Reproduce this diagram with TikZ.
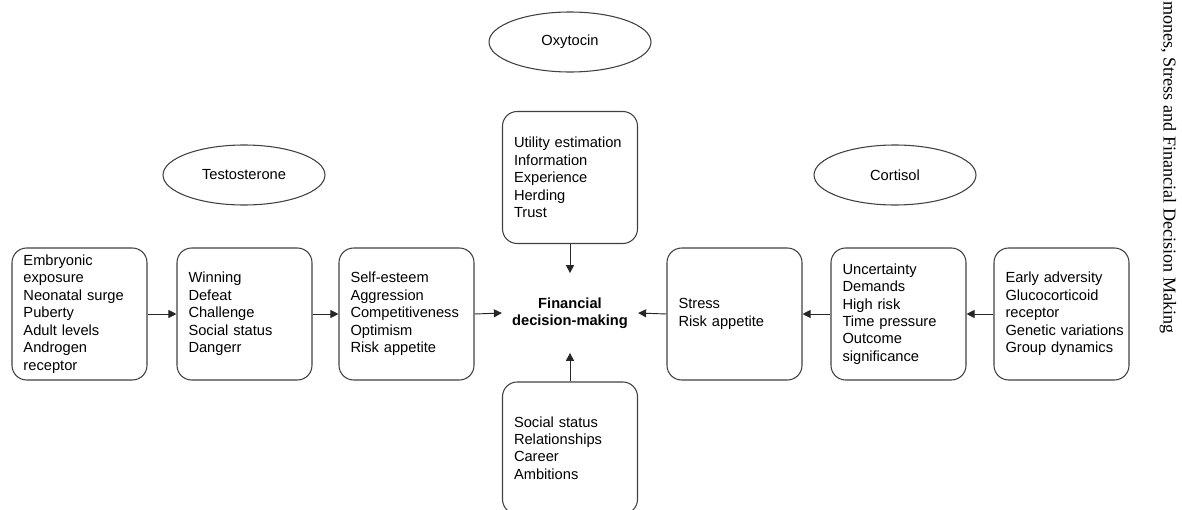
\documentclass[tikz,border=0pt]{standalone}
\usepackage{fontspec}
\setmainfont{Liberation Sans}
\newfontfamily\runhead{Liberation Serif}
\usetikzlibrary{shapes.geometric,arrows.meta}

\begin{document}
\begin{tikzpicture}[x=0.75pt, y=-0.75pt,
  every node/.style={inner sep=1.5pt, font=\fontsize{11}{13.1}\selectfont},
  box/.style={draw=black!75, line width=0.8pt, rounded corners=11pt, minimum width=101.25pt,
    minimum height=99pt, text width=84pt, inner xsep=8.6pt, align=left},
  hormone/.style={ellipse, draw=black!75, line width=0.8pt, minimum width=121.5pt, minimum height=45pt},
  link/.style={-{Triangle[length=6pt,width=6pt]}, draw=black!85, line width=0.7pt}]
  \clip (0,0) rectangle (1182,510);
  \node[hormone] (oxy) at (570,42) {Oxytocin};
  \node[hormone] (testo) at (244,175) {Testosterone};
  \node[hormone] (cort) at (895,175) {Cortisol};
  \node[box] (emb) at (79.5,314) {Embryonic\\exposure\\Neonatal surge\\Puberty\\Adult levels\\Androgen\\receptor};
  \node[box] (win) at (244.5,314) {Winning\\Defeat\\Challenge\\Social status\\Dangerr};
  \node[box] (self) at (406.5,314) {Self-esteem\\Aggression\\Competitiveness\\Optimism\\Risk appetite};
  \node[box] (stress) at (734.5,314) {Stress\\Risk appetite};
  \node[box] (uncert) at (898.5,314) {Uncertainty\\Demands\\High risk\\Time pressure\\Outcome\\significance};
  \node[box] (early) at (1061.5,314) {Early adversity\\Glucocorticoid\\receptor\\\mbox{Genetic variations}\\Group dynamics};
  \node[box] (util) at (570,177.5) {Utility estimation\\Information\\Experience\\Herding\\Trust};
  \node[box] (social) at (570,448) {Social status\\Relationships\\Career\\Ambitions};
  \node[font=\bfseries\fontsize{11}{13.1}\selectfont, align=center, inner xsep=7.5pt, inner ysep=18pt]
    (fdm) at (570,313) {Financial\\decision-making};
  \draw[link] (emb.east) -- (win.west);
  \draw[link] (win.east) -- (self.west);
  \draw[link] (self.east) -- (fdm.west);
  \draw[link] (early.west) -- (uncert.east);
  \draw[link] (uncert.west) -- (stress.east);
  \draw[link] (stress.west) -- (fdm.east);
  \draw[link] (util.south) -- (fdm.north);
  \draw[link] (social.north) -- (fdm.south);
  \node[rotate=-90, anchor=west, inner sep=0pt, font=\runhead\fontsize{13.6}{16}\selectfont]
    (head) at (1168,1) {mones, Stress and Financial Decision Making};
\end{tikzpicture}
\end{document}
